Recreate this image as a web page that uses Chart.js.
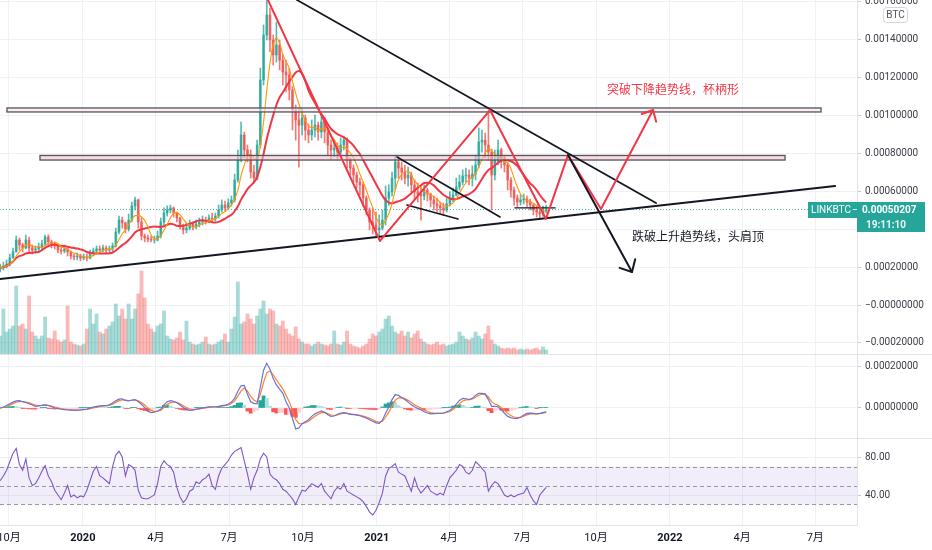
<!DOCTYPE html>
<html>
<head>
<meta charset="utf-8">
<script src="https://cdn.jsdelivr.net/npm/chart.js@4.4.0/dist/chart.umd.min.js"></script>
<style>
  html, body { margin: 0; padding: 0; background: #fff; }
  #wrap { position: relative; width: 932px; height: 550px; background: #e0e3eb; overflow: hidden; }
  canvas { position: absolute; left: 0; background: #fff; }
  #main { top: 0; }
  #macd { top: 355px; }
  #rsi { top: 439px; }
</style>
</head>
<body>
<div id="wrap">
  <canvas id="main" width="932" height="354"></canvas>
  <canvas id="macd" width="932" height="83"></canvas>
  <canvas id="rsi" width="932" height="111"></canvas>
</div>
<script>
// LINK/BTC, 4-day candles from 2019-09-20, prices in 1e-5 BTC
const firstBarDate = '2019-09-20';
const barStepDays = 4;
const firstOpen = 18.9;

const closes = [
  19.5,20.5,21.6,24.7,27.9,34.2,31.6,30.0,34.2,30.0,
  28.9,29.5,30.5,32.1,35.8,33.2,32.1,31.1,28.9,28.4,
  29.5,27.9,25.8,25.3,25.8,24.7,25.3,24.7,27.4,28.4,
  29.5,28.9,30.0,28.9,29.5,31.1,38.4,44.7,43.2,40.0,
  44.7,52.1,55.3,43.7,36.3,35.3,34.7,34.2,34.2,36.3,
  43.7,48.4,50.0,51.1,48.4,45.8,41.6,39.5,40.5,42.6,
  41.1,42.6,43.7,44.7,44.2,45.8,45.3,46.8,50.0,52.6,
  51.1,53.7,55.3,65.8,76.3,89.5,81.6,78.9,70.0,66.8,
  84.2,118.4,142.1,152.6,139.5,131.6,136.8,128.9,122.6,121.1,
  113.2,102.6,97.4,94.7,98.4,92.1,89.5,92.1,94.7,91.1,
  96.3,91.1,84.2,81.6,82.6,80.5,84.2,86.8,76.3,72.1,
  68.4,64.7,63.2,56.3,50.0,43.7,42.1,39.5,40.5,44.7,
  56.3,59.5,66.8,75.3,72.1,70.0,66.8,68.4,63.2,59.5,
  58.4,57.4,60.5,58.4,55.3,53.2,52.1,51.1,50.0,53.2,
  56.3,57.9,62.1,64.7,67.9,68.4,66.8,68.9,73.7,85.8,
  86.8,84.2,80.5,68.4,76.3,81.6,77.4,73.7,65.8,60.5,
  56.3,54.2,55.3,55.8,54.2,52.6,50.0,48.9,47.9,49.5,
  50.207
];
const highs = [
  21.6,22.6,23.7,26.8,30.0,36.3,35.3,32.6,36.8,35.8,
  31.6,31.1,32.6,34.2,36.8,37.0,34.2,33.2,31.6,30.5,
  31.6,30.0,28.4,26.8,27.4,26.8,26.8,26.8,28.9,30.0,
  31.1,31.1,31.6,31.1,31.1,32.6,40.5,46.8,46.3,43.7,
  47.9,54.2,56.8,55.8,45.8,37.4,36.8,36.3,36.3,38.9,
  45.8,51.1,52.1,52.6,51.6,48.9,46.3,42.6,43.2,44.7,
  43.7,44.7,45.8,46.8,46.3,47.4,48.4,48.4,52.6,55.3,
  54.7,55.8,57.4,68.9,81.6,96.3,91.0,84.2,81.6,73.7,
  86.8,124.7,147.4,160.5,156.3,142.1,148.9,139.5,131.6,128.9,
  124.7,115.0,105.3,103.7,103.7,100.0,95.3,97.4,100.0,96.3,
  100.0,98.9,92.0,86.8,86.8,85.3,87.9,88.9,88.0,77.4,
  73.7,70.0,66.8,64.5,57.4,51.1,51.1,48.9,47.4,50.0,
  62.6,63.2,70.0,78.9,77.9,75.3,73.7,72.6,70.0,65.8,
  64.2,62.6,63.2,61.6,58.9,57.4,56.3,54.2,53.7,56.3,
  59.5,61.6,66.8,68.4,71.1,72.1,71.1,73.2,78.9,93.2,
  92.1,90.5,102.6,82.0,81.6,86.8,82.6,78.9,75.0,67.0,
  62.0,57.9,57.9,58.4,57.4,55.8,53.2,52.6,51.6,52.1,
  52.6
];
const lows = [
  17.4,18.4,19.5,20.5,24.7,27.9,28.9,27.9,29.5,27.9,
  26.8,27.4,28.4,29.5,31.1,31.1,30.0,29.5,27.4,26.8,
  27.4,25.8,24.2,23.7,23.7,23.2,23.7,23.2,24.2,25.8,
  26.8,27.4,27.9,27.4,27.9,28.4,30.5,37.4,40.5,37.9,
  38.9,43.7,50.0,40.5,34.2,33.2,33.2,33.2,32.6,33.7,
  35.3,42.1,46.8,48.4,46.3,43.7,40.0,37.4,37.9,39.5,
  39.5,40.0,41.1,42.1,42.6,43.2,43.7,44.2,45.8,48.9,
  49.5,50.5,52.1,54.2,64.7,75.3,77.4,75.3,66.8,64.2,
  65.8,82.6,115.8,139.5,133.2,126.3,127.9,123.7,115.8,112.1,
  107.9,92.1,86.8,72.6,89.5,86.8,85.3,86.8,88.4,86.8,
  87.9,85.3,78.9,76.3,77.9,76.3,78.4,81.6,72.1,68.4,
  64.7,61.6,57.9,52.1,47.4,39.5,37.4,36.3,35.3,39.5,
  42.1,52.6,57.4,60.5,66.8,65.8,63.7,62.6,59.5,55.3,
  54.2,44.7,55.3,54.7,51.6,50.0,48.9,47.9,47.4,48.9,
  52.1,54.2,57.4,60.5,63.2,64.7,63.2,62.6,65.8,72.1,
  80.5,77.4,76.3,50.0,65.8,73.7,72.1,70.0,60.5,56.8,
  52.6,51.6,52.6,53.2,51.6,50.0,47.4,46.3,45.8,46.8,
  48.4
];
// volume, relative units
const volumes = [
  18,45,22,25,28,68,28,30,25,58,
  22,18,15,18,37,16,15,23,14,12,
  14,48,12,10,9,8,10,25,45,30,
  40,22,20,25,28,32,50,38,45,35,
  50,35,45,60,83,56,30,25,22,28,
  30,43,18,15,14,16,22,14,33,12,
  10,9,10,12,17,10,9,10,12,14,
  20,12,25,37,72,30,32,40,35,30,
  38,45,53,40,45,43,30,28,33,25,
  20,18,27,15,12,10,10,8,10,12,
  10,9,8,10,23,10,9,12,23,10,
  8,7,6,8,10,15,20,18,22,25,
  35,38,28,22,20,23,18,22,16,20,
  23,15,12,10,9,10,12,9,10,8,
  9,10,12,22,18,15,14,16,22,18,
  15,20,28,14,10,8,6,5,6,5,
  6,4,5,4,5,4,5,6,4,7,
  4
];
// MACD line, 1e-5 BTC
const macdLine = [
  0,0.5,1.2,2.0,2.8,3.4,3.5,3.0,2.6,2.0,
  1.4,0.8,1.0,1.3,1.5,1.2,0.6,0.0,-0.3,-0.6,
  -0.8,-0.9,-1.0,-1.1,-1.0,-0.9,-0.7,-0.5,0,0.4,
  0.8,1.0,1.1,1.2,1.5,2.4,3.4,4.2,4.4,3.6,
  3.4,3.8,4.0,3.0,1.8,0.2,-1.5,-2.2,-2.0,-1.4,
  -0.6,1.5,3.0,3.5,3.2,2.5,1.4,0.2,-0.8,-1.1,
  -1.0,-0.6,-0.3,0.0,0.3,0.5,0.6,0.6,0.8,1.1,
  1.4,1.8,2.8,4.6,8.0,10.6,10.8,6.5,3.0,2.2,
  2.0,10.0,18.0,21.3,18.5,14.0,11.0,9.0,7.0,3.0,
  0.0,-5.0,-10.0,-9.5,-7.5,-6.5,-5.6,-4.0,-2.8,-2.0,
  -1.4,-2.0,-3.2,-4.0,-3.8,-3.0,-2.4,-2.2,-2.6,-3.0,
  -3.2,-3.4,-3.7,-4.2,-4.8,-5.6,-6.3,-7.1,-7.3,-5.8,
  -2.5,0.5,4.0,6.4,6.0,5.0,4.0,2.8,1.5,0.6,
  -0.2,-0.8,-1.8,-2.4,-2.8,-2.7,-2.6,-2.6,-2.4,-1.8,
  -1.2,0.2,1.8,3.6,4.6,4.4,4.0,4.6,6.0,7.0,
  7.0,6.6,4.0,0.8,0.8,0.6,-0.8,-2.5,-4.0,-4.6,
  -5.0,-4.9,-4.4,-3.4,-2.6,-2.4,-2.6,-2.8,-2.6,-2.2,
  -1.8
];
const rsiLine = [
  55,60,66,75,84,89,72,66,78,58,
  50,52,58,65,71,60,54,45,40,35,
  42,50,38,40,37,39,38,45,55,65,
  70,60,58,55,52,70,82,86,80,60,
  72,70,66,45,37,36,36,38,40,52,
  70,76,72,70,64,48,38,32,36,44,
  46,54,52,56,58,62,50,46,60,68,
  72,76,82,86,88,90,76,62,46,58,
  66,78,84,80,62,58,56,52,46,44,
  40,36,30,38,45,44,48,52,50,48,
  52,44,40,36,44,48,46,52,44,42,
  40,38,36,33,28,22,19,24,32,42,
  60,68,70,73,64,62,60,52,44,58,
  48,42,46,50,44,42,40,42,40,50,
  58,62,66,72,70,64,62,66,75,72,
  68,64,44,50,54,52,46,40,38,40,
  38,40,41,42,48,40,34,30,40,44,
  48
];

const tickDates = ['2019-10-01','2020-01-01','2020-04-01','2020-07-01','2020-10-01','2021-01-01',
                   '2021-04-01','2021-07-01','2021-10-01','2022-01-01','2022-04-01','2022-07-01'];
const tickLabels = ['10月','2020','4月','7月','10月','2021','4月','7月','10月','2022','4月','7月'];
const priceTicks = [-20, 0, 20, 40, 60, 80, 100, 120, 140, 160];
const macdTicks = [0, 20];
const rsiTicks = [40, 80];

const symbol = 'LINKBTC';
const countdown = '19:11:10';
const upText = '突破下降趋势线，杯柄形';
const downText = '跌破上升趋势线，头肩顶';

// hand drawn lines, [days from 2019-10-01, price]
const supportLine = [[-11.2, 13.7], [1028.6, 62.6]];
const resistLine = [[358.7, 160.5], [805.7, 53.7]];
const bands = [
  { from: -2.5, to: 1011.2, top: 103.7, bottom: 101.6 },
  { from: 38.6, to: 966.4, top: 78.7, bottom: 76.3 }
];
const zigzag = [[322.5, 160.5], [462, 33.7], [599, 102.6], [668.7, 45.3], [696.1, 78.9], [737.2, 50.5], [802, 102.6]];
const wedgeTop = [[483.2, 77.9], [611.5, 46.3]];
const wedgeBottom = [[495.6, 52.6], [559.2, 45.3]];
const handleLine = [[630.1, 51.1], [680, 51.1]];
const breakdownArrow = [[696.1, 78.9], [775.8, 17.4]];
const upTextAt = [744.7, 113.7];
const downTextAt = [775.8, 36.3];

// ---- derived ----
const dayOf = s => (Date.parse(s + 'T00:00:00Z') - Date.parse('2019-10-01T00:00:00Z')) / 864e5;
const barDays = closes.map((_, i) => dayOf(firstBarDate) + i * barStepDays);
const tickDays = tickDates.map(dayOf);
const opens = closes.map((c, i) => i ? closes[i - 1] : firstOpen);
const lastClose = closes[closes.length - 1];

function sma(src, n) {
  return src.map((_, i) => {
    const win = src.slice(Math.max(0, i - n + 1), i + 1);
    return win.reduce((a, b) => a + b, 0) / win.length;
  });
}
function ema(src, alpha) {
  let prev = src[0];
  return src.map(v => (prev = prev + alpha * (v - prev)));
}
const maFast = sma(closes, 5);
const maSlow = sma(closes, 13);
const macdSignal = ema(macdLine, 0.5);
const macdHist = macdLine.map((v, i) => v - macdSignal[i]);

const candleColors = closes.map((c, i) => c >= opens[i] ? 'rgba(38,166,154,0.78)' : 'rgba(239,83,80,0.78)');
const volColors = closes.map((c, i) => c >= opens[i] ? 'rgba(38,166,154,0.4)' : 'rgba(239,83,80,0.4)');
const histColors = macdHist.map((h, i) => {
  const prev = i ? macdHist[i - 1] : 0;
  if (h >= 0) return h >= prev ? '#26a69a' : '#b2dfdb';
  return h <= prev ? '#ff5252' : '#ffcdd2';
});
const pts = arr => arr.map((v, i) => ({ x: barDays[i], y: v }));

// ---- layout ----
const viewDays = [-11.2, 1056];
const axisWidth = 75;
const gridColor = '#f0f1f4';
const paneLine = '#e0e3eb';
const labelColor = '#3b3e47';

Chart.defaults.font.family = 'Roboto, "Noto Sans CJK SC", sans-serif';
Chart.defaults.font.size = 10;
Chart.defaults.color = labelColor;
Chart.defaults.animation = false;
Chart.defaults.layout.autoPadding = false;
Chart.defaults.plugins.legend.display = false;
Chart.defaults.plugins.tooltip.enabled = false;

function timeAxis(withLabels) {
  return {
    type: 'linear', min: viewDays[0], max: viewDays[1], offset: false, bounds: 'data',
    afterBuildTicks: s => { s.ticks = tickDays.map(v => ({ value: v })); },
    afterFit: s => { s.height = withLabels ? 25 : 0; s.paddingLeft = 0; s.paddingRight = 0; },
    grid: { color: gridColor, drawTicks: false, offset: false },
    border: { display: withLabels, color: paneLine },
    ticks: {
      display: withLabels, padding: 7, autoSkip: false, minRotation: 0, maxRotation: 0,
      color: '#131722',
      font: ctx => ({ size: 11, weight: /^\d{4}$/.test(tickLabels[ctx.index]) ? 'bold' : 'normal' }),
      callback: (v, i) => tickLabels[i]
    }
  };
}
function valueAxis(min, max, ticks, fmt) {
  return {
    type: 'linear', position: 'right', min, max, bounds: 'data',
    afterBuildTicks: s => { s.ticks = ticks.map(v => ({ value: v })); },
    afterFit: s => { s.width = axisWidth; s.paddingTop = 0; s.paddingBottom = 0; },
    grid: { color: gridColor, tickLength: 4, tickColor: '#c9cbd1' },
    border: { color: paneLine },
    ticks: { padding: 4, font: { size: 10 }, callback: fmt }
  };
}
const fmtBtc = v => {
  const s = (v / 1e5).toFixed(8);
  return v <= 0 ? '−' + s.replace('-', '') : s;
};

function strokePath(ctx, p, color, width) {
  ctx.strokeStyle = color; ctx.lineWidth = width;
  ctx.lineJoin = 'round'; ctx.lineCap = 'round';
  ctx.beginPath();
  p.forEach(([x, y], i) => i ? ctx.lineTo(x, y) : ctx.moveTo(x, y));
  ctx.stroke();
}
function arrowHead(ctx, from, tip, color, width, len, spread) {
  const a = Math.atan2(from[1] - tip[1], from[0] - tip[0]);
  ctx.strokeStyle = color; ctx.lineWidth = width;
  ctx.beginPath();
  ctx.moveTo(tip[0] + len * Math.cos(a + spread), tip[1] + len * Math.sin(a + spread));
  ctx.lineTo(tip[0], tip[1]);
  ctx.lineTo(tip[0] + len * Math.cos(a - spread), tip[1] + len * Math.sin(a - spread));
  ctx.stroke();
}

const drawings = {
  id: 'drawings',
  afterDatasetsDraw(chart) {
    const { ctx, chartArea: a, scales: { x, y } } = chart;
    const px = p => [x.getPixelForValue(p[0]), y.getPixelForValue(p[1])];
    ctx.save();
    ctx.beginPath(); ctx.rect(a.left, a.top, a.width, a.height); ctx.clip();

    bands.forEach((b, i) => {
      const x1 = x.getPixelForValue(b.from), x2 = x.getPixelForValue(b.to);
      const y1 = y.getPixelForValue(b.top), y2 = y.getPixelForValue(b.bottom);
      ctx.fillStyle = i ? 'rgba(248,187,200,0.55)' : 'rgba(252,228,232,0.6)';
      ctx.fillRect(x1, y1, x2 - x1, y2 - y1);
      ctx.strokeStyle = '#50535e'; ctx.lineWidth = 1.3;
      ctx.strokeRect(x1, y1, x2 - x1, y2 - y1);
    });

    strokePath(ctx, supportLine.map(px), '#131722', 2);
    strokePath(ctx, resistLine.map(px), '#131722', 1.8);
    strokePath(ctx, wedgeTop.map(px), '#131722', 1.6);
    strokePath(ctx, wedgeBottom.map(px), '#131722', 1.6);
    strokePath(ctx, handleLine.map(px), '#131722', 1.4);

    const zz = zigzag.map(px);
    strokePath(ctx, zz, '#f23645', 2);
    arrowHead(ctx, zz[zz.length - 2], zz[zz.length - 1], '#f23645', 2, 12, 0.75);

    const ba = breakdownArrow.map(px);
    strokePath(ctx, ba, '#131722', 2);
    arrowHead(ctx, ba[0], ba[1], '#131722', 2, 13, 0.75);

    ctx.font = '12px "Noto Sans CJK SC", sans-serif';
    ctx.textBaseline = 'middle'; ctx.textAlign = 'left';
    ctx.fillStyle = '#f23645';
    ctx.fillText(upText, ...px(upTextAt));
    ctx.fillStyle = '#131722';
    ctx.fillText(downText, ...px(downTextAt));
    ctx.restore();
  }
};

const priceTag = {
  id: 'priceTag',
  afterDraw(chart) {
    const { ctx, scales: { y } } = chart;
    const py = Math.round(y.getPixelForValue(lastClose));
    const ax = y.left;
    ctx.save();
    ctx.fillStyle = '#26a69a';
    ctx.fillRect(ax - 49, py - 8, 117, 16);
    ctx.fillRect(ax, py + 8, 68, 14);
    ctx.fillStyle = '#fff';
    ctx.textBaseline = 'middle'; ctx.textAlign = 'left';
    ctx.font = '10px Roboto, sans-serif';
    ctx.fillText(symbol, ax - 46, py);
    ctx.fillText('−', ax - 5, py);
    ctx.font = 'bold 10px Roboto, sans-serif';
    ctx.fillText(fmtBtc(lastClose), ax + 5, py);
    ctx.fillStyle = 'rgba(255,255,255,0.9)';
    ctx.fillText(countdown, ax + 9, py + 15);
    // currency badge
    ctx.fillStyle = '#fff'; ctx.strokeStyle = '#d1d4dc'; ctx.lineWidth = 1;
    ctx.beginPath(); ctx.roundRect(ax + 26.5, 7.5, 24, 15, 3); ctx.fill(); ctx.stroke();
    ctx.fillStyle = '#50535e'; ctx.font = '10px Roboto, sans-serif'; ctx.textAlign = 'center';
    ctx.fillText('BTC', ax + 38.5, 15.5);
    ctx.restore();
  }
};

new Chart(document.getElementById('main'), {
  type: 'line',
  data: {
    datasets: [
      { type: 'line', data: pts(maFast), borderColor: '#ff9800', borderWidth: 1.1, pointRadius: 0,
        cubicInterpolationMode: 'monotone', order: 1 },
      { type: 'line', data: pts(maSlow), borderColor: '#f23645', borderWidth: 2, pointRadius: 0,
        cubicInterpolationMode: 'monotone', order: 1 },
      { type: 'bar', data: closes.map((c, i) => ({ x: barDays[i], y: [opens[i], c] })),
        backgroundColor: candleColors, barThickness: 2, grouped: false, order: 2 },
      { type: 'bar', data: closes.map((c, i) => ({ x: barDays[i], y: [lows[i], highs[i]] })),
        backgroundColor: candleColors, barThickness: 1, grouped: false, order: 3 },
      { type: 'bar', yAxisID: 'yVol', data: pts(volumes), backgroundColor: volColors,
        barThickness: 3.2, grouped: false, order: 5 },
      { type: 'line', data: [{ x: viewDays[0], y: lastClose }, { x: viewDays[1], y: lastClose }],
        borderColor: 'rgba(38,166,154,0.9)', borderWidth: 1, borderDash: [1, 2], pointRadius: 0, order: 4 }
    ]
  },
  options: {
    responsive: false,
    layout: { padding: 0 },
    scales: {
      x: timeAxis(false),
      y: valueAxis(-25.79, 160.53, priceTicks, fmtBtc),
      yVol: { type: 'linear', display: false, min: 0, max: 354 }
    }
  },
  plugins: [drawings, priceTag]
});

new Chart(document.getElementById('macd'), {
  type: 'line',
  data: {
    datasets: [
      { type: 'line', data: pts(macdLine), borderColor: '#6a74d6', borderWidth: 1.2, pointRadius: 0, order: 1 },
      { type: 'line', data: pts(macdSignal), borderColor: '#ff7f2a', borderWidth: 1.2, pointRadius: 0, order: 1 },
      { type: 'bar', data: pts(macdHist), backgroundColor: histColors, barThickness: 3.2, grouped: false, order: 2 }
    ]
  },
  options: {
    responsive: false,
    layout: { padding: 0 },
    scales: {
      x: timeAxis(false),
      y: valueAxis(-14.29, 25.24, macdTicks, v => (v / 1e5).toFixed(8))
    }
  }
});

const rsiBand = {
  id: 'rsiBand',
  beforeDatasetsDraw(chart) {
    const { ctx, chartArea: a, scales: { y } } = chart;
    const y70 = y.getPixelForValue(70), y50 = y.getPixelForValue(50), y30 = y.getPixelForValue(30);
    ctx.save();
    ctx.fillStyle = 'rgba(126,87,194,0.1)';
    ctx.fillRect(a.left, y70, a.width, y30 - y70);
    ctx.strokeStyle = '#9598a1'; ctx.lineWidth = 1; ctx.setLineDash([4, 3]);
    [y70, y50, y30].forEach(yy => {
      ctx.beginPath(); ctx.moveTo(a.left, Math.round(yy) + 0.5); ctx.lineTo(a.right, Math.round(yy) + 0.5); ctx.stroke();
    });
    ctx.restore();
  }
};

new Chart(document.getElementById('rsi'), {
  type: 'line',
  data: {
    datasets: [
      { data: pts(rsiLine), borderColor: '#7e57c2', borderWidth: 1.1, pointRadius: 0 }
    ]
  },
  options: {
    responsive: false,
    layout: { padding: 0 },
    scales: {
      x: timeAxis(true),
      y: valueAxis(8.42, 98.95, rsiTicks, v => v.toFixed(2))
    }
  },
  plugins: [rsiBand]
});
</script>
</body>
</html>
